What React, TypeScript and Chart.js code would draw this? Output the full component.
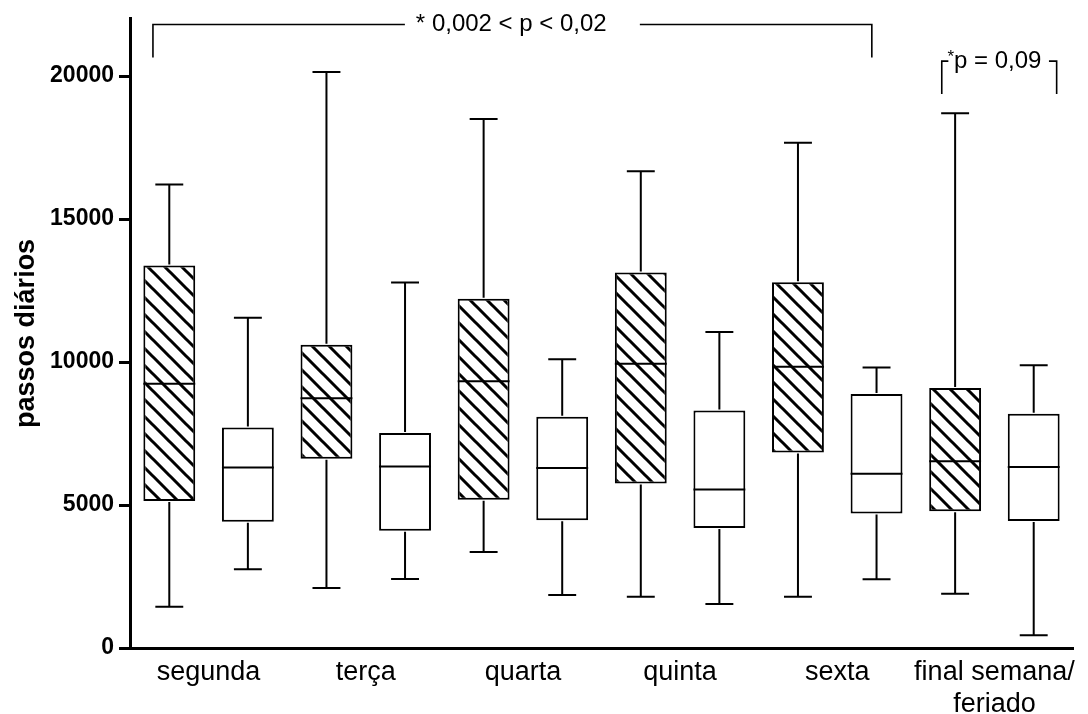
import React, { useEffect, useRef } from 'react';
import { Chart, registerables } from 'chart.js';

Chart.register(...registerables);

const FONT = "'Liberation Sans', Arial, Helvetica, sans-serif";

const categories: (string | string[])[] = ['segunda', 'terça', 'quarta', 'quinta', 'sexta', ['final semana/', 'feriado']];

// hatched boxes (first of each pair)
const hatchedMin = [1440, 2100, 3360, 1790, 1790, 1900];
const hatchedQ1 = [5140, 6620, 5180, 5750, 6840, 4780];
const hatchedMedian = [9240, 8730, 9330, 9940, 9830, 6530];
const hatchedQ3 = [13370, 10600, 12210, 13130, 12790, 9090];
const hatchedMax = [16210, 20140, 18500, 16670, 17670, 18700];

// white boxes (second of each pair)
const whiteMin = [2750, 2410, 1850, 1540, 2400, 450];
const whiteQ1 = [4410, 4100, 4470, 4200, 4700, 4440];
const whiteMedian = [6310, 6350, 6290, 5540, 6090, 6330];
const whiteQ3 = [7710, 7520, 8090, 8300, 8880, 8190];
const whiteMax = [11550, 12780, 10100, 11050, 9810, 9890];

const yTicks = [0, 5000, 10000, 15000, 20000];
const yTickLabels = ['0', '5000', '10000', '15000', '20000'];
const yMax = 22000;

// significance brackets, in category units (x) and data units (y)
const bracketMainText = '* 0,002 < p < 0,02';
const bracketMain = { from: -0.354, to: 4.22, top: 21800, bottom: 20650, text: 1.926, gapFrom: 1.249, gapTo: 2.744 };
const bracketSmallText = 'p = 0,09';
const bracketSmall = { from: 4.665, to: 5.396, top: 20520, bottom: 19370, text: 5.0, gapFrom: 4.707, gapTo: 5.347 };

function makeHatch(): CanvasPattern | string {
  const s = 17;
  const c = document.createElement('canvas');
  c.width = s;
  c.height = s;
  const g = c.getContext('2d');
  if (!g) return '#fff';
  g.fillStyle = '#fff';
  g.fillRect(0, 0, s, s);
  g.strokeStyle = '#000';
  g.lineWidth = 3;
  g.beginPath();
  for (let k = -1; k <= 1; k++) {
    g.moveTo(k * s - 2, -2);
    g.lineTo(k * s + s + 2, s + 2);
  }
  g.stroke();
  const p = g.createPattern(c, 'repeat');
  return p || '#fff';
}

const boxPlugin = {
  id: 'boxWhiskers',
  afterDatasetsDraw(chart: any) {
    const ctx = chart.ctx;
    const y = chart.scales.y;
    const sets = [
      { min: hatchedMin, med: hatchedMedian, q1: hatchedQ1, q3: hatchedQ3, max: hatchedMax },
      { min: whiteMin, med: whiteMedian, q1: whiteQ1, q3: whiteQ3, max: whiteMax },
    ];
    ctx.save();
    ctx.strokeStyle = '#000';
    ctx.lineWidth = 2;
    sets.forEach((s, di) => {
      const meta = chart.getDatasetMeta(di);
      meta.data.forEach((bar: any, i: number) => {
        const x = bar.x;
        const w = bar.width;
        const cap = w / 2 + 2;
        const ym = y.getPixelForValue(s.med[i]);
        const y1 = y.getPixelForValue(s.q1[i]);
        const y3 = y.getPixelForValue(s.q3[i]);
        const ymin = y.getPixelForValue(s.min[i]);
        const ymax = y.getPixelForValue(s.max[i]);
        ctx.beginPath();
        ctx.moveTo(x - w / 2, ym);
        ctx.lineTo(x + w / 2, ym);
        ctx.moveTo(x, y3 - 1);
        ctx.lineTo(x, ymax);
        ctx.moveTo(x - cap / 2, ymax);
        ctx.lineTo(x + cap / 2, ymax);
        ctx.moveTo(x, y1 + 1);
        ctx.lineTo(x, ymin);
        ctx.moveTo(x - cap / 2, ymin);
        ctx.lineTo(x + cap / 2, ymin);
        ctx.stroke();
      });
    });
    ctx.restore();
  },
};

const annPlugin = {
  id: 'brackets',
  afterDraw(chart: any) {
    const { ctx } = chart;
    const x = chart.scales.x;
    const y = chart.scales.y;
    const x0 = x.getPixelForValue(0);
    const step = x.getPixelForValue(1) - x0;
    const px = (v: number) => x0 + v * step;
    ctx.save();
    ctx.strokeStyle = '#000';
    ctx.fillStyle = '#000';
    ctx.lineWidth = 1.6;

    const drawBracket = (b: any) => {
      const t = y.getPixelForValue(b.top);
      const bt = y.getPixelForValue(b.bottom);
      ctx.beginPath();
      ctx.moveTo(px(b.from), bt);
      ctx.lineTo(px(b.from), t);
      ctx.lineTo(px(b.gapFrom), t);
      ctx.moveTo(px(b.gapTo), t);
      ctx.lineTo(px(b.to), t);
      ctx.lineTo(px(b.to), bt);
      ctx.stroke();
      return t;
    };

    const t1 = drawBracket(bracketMain);
    ctx.font = `24px ${FONT}`;
    ctx.textAlign = 'center';
    ctx.textBaseline = 'middle';
    ctx.fillText(bracketMainText, px(bracketMain.text), t1);

    const t2 = drawBracket(bracketSmall);
    ctx.font = `24px ${FONT}`;
    const w2 = ctx.measureText(bracketSmallText).width;
    ctx.font = `17px ${FONT}`;
    const ws = ctx.measureText('*').width;
    const total = w2 + ws;
    const start = px(bracketSmall.text) - total / 2;
    ctx.textAlign = 'left';
    ctx.fillText('*', start, t2 - 4);
    ctx.font = `24px ${FONT}`;
    ctx.fillText(bracketSmallText, start + ws, t2);
    ctx.restore();
  },
};

export default function App() {
  const ref = useRef<HTMLCanvasElement | null>(null);

  useEffect(() => {
    if (!ref.current) return;
    const hatch = makeHatch();
    const chart = new Chart(ref.current, {
      type: 'bar',
      data: {
        labels: categories as any,
        datasets: [
          {
            label: 'hatched',
            data: hatchedQ1.map((q, i) => [q, hatchedQ3[i]]) as any,
            backgroundColor: hatch as any,
            borderColor: '#000',
            borderWidth: 2,
            borderSkipped: false,
            barPercentage: 0.66,
            categoryPercentage: 1,
          },
          {
            label: 'white',
            data: whiteQ1.map((q, i) => [q, whiteQ3[i]]) as any,
            backgroundColor: '#fff',
            borderColor: '#000',
            borderWidth: 2,
            borderSkipped: false,
            barPercentage: 0.66,
            categoryPercentage: 1,
          },
        ],
      },
      options: {
        responsive: false,
        animation: false,
        layout: { padding: { left: 0, right: 15, top: 18, bottom: 0 } },
        plugins: {
          legend: { display: false },
          tooltip: { enabled: false },
        },
        scales: {
          x: {
            type: 'category',
            offset: true,
            grid: { display: false, drawTicks: false },
            border: { display: true, color: '#000', width: 3 },
            ticks: {
              color: '#000',
              font: { family: FONT, size: 27 },
              padding: 8,
              maxRotation: 0,
              autoSkip: false,
            },
            afterFit: (s: any) => {
              s.height = 66;
            },
          },
          y: {
            min: 0,
            max: yMax,
            afterBuildTicks: (s: any) => {
              s.ticks = yTicks.map((v) => ({ value: v }));
            },
            ticks: {
              color: '#000',
              font: { family: FONT, size: 23, weight: 'bold' },
              padding: 5,
              callback: (v: any) => {
                const idx = yTicks.indexOf(Number(v));
                return idx >= 0 ? yTickLabels[idx] : '';
              },
            },
            grid: {
              drawOnChartArea: false,
              drawTicks: true,
              tickLength: 11,
              lineWidth: 3,
              color: '#000',
            },
            border: { display: true, color: '#000', width: 3 },
            title: {
              display: true,
              text: 'passos diários',
              color: '#000',
              font: { family: FONT, size: 27, weight: 'bold' },
              padding: { top: 10, bottom: 0 },
            },
            afterFit: (s: any) => {
              s.width = 130;
            },
          },
        },
      },
      plugins: [boxPlugin, annPlugin],
    });
    return () => chart.destroy();
  }, []);

  return (
    <div style={{ position: 'absolute', left: 0, top: 0, width: 1088, height: 714, background: '#fff' }}>
      <canvas ref={ref} width={1088} height={714} style={{ width: 1088, height: 714, display: 'block' }} />
    </div>
  );
}
